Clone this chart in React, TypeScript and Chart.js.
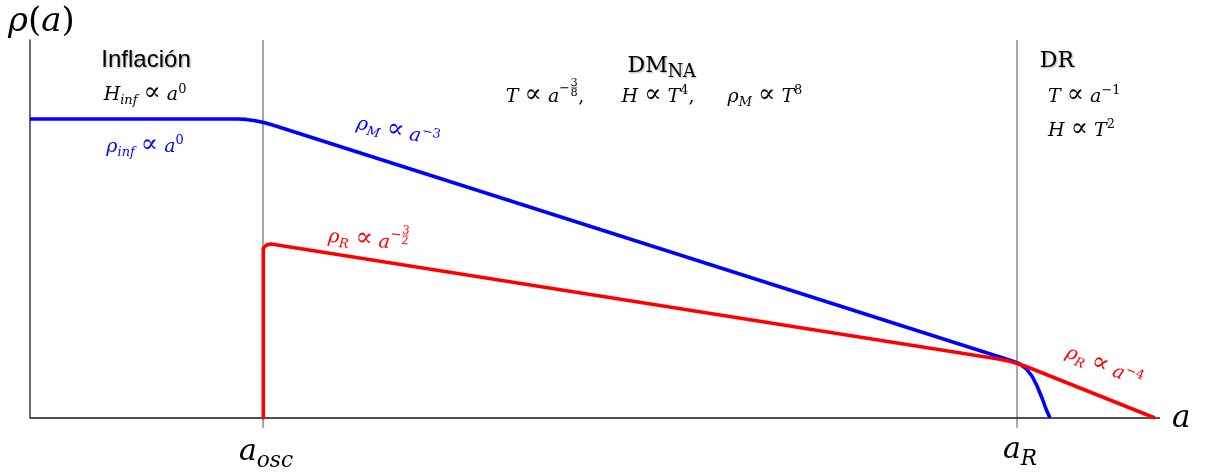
import { useEffect, useRef } from "react";
import { Chart, registerables } from "chart.js";

Chart.register(...registerables);

// Scale factor positions (arbitrary units, 0..100 along each axis)
const A_OSC = 20.62;
const A_R = 87.35;

// Energy density of the inflaton / matter component
const rhoM = [
  { x: 0, y: 79.1 },
  { x: 18.41, y: 79.1 },
  { x: 19.14, y: 78.99 },
  { x: 19.93, y: 78.66 },
  { x: 20.78, y: 78.1 },
  { x: 21.68, y: 77.33 },
  { x: 86.73, y: 15.26 },
  { x: 87.52, y: 14.42 },
  { x: 88.14, y: 13.1 },
  { x: 88.67, y: 11.11 },
  { x: 89.12, y: 8.47 },
  { x: 89.56, y: 5.29 },
  { x: 89.91, y: 2.38 },
  { x: 90.27, y: 0 },
];

// Energy density of the radiation component
const rhoR = [
  { x: 20.62, y: 0 },
  { x: 20.62, y: 43.92 },
  { x: 20.67, y: 44.84 },
  { x: 20.82, y: 45.5 },
  { x: 21.04, y: 45.87 },
  { x: 21.33, y: 46.01 },
  { x: 85.84, y: 15.53 },
  { x: 86.55, y: 15.11 },
  { x: 87.3, y: 14.5 },
  { x: 88.1, y: 13.68 },
  { x: 88.94, y: 12.7 },
  { x: 99.56, y: 0 },
];

const axisFrame = [
  { x: 0, y: 100 },
  { x: 0, y: 0 },
  { x: 100, y: 0 },
];

const eraBounds = [A_OSC, A_R];

const MATH = "'DejaVu Serif', serif";
const SERIF = "'DejaVu Serif', serif";
const SANS = "'Liberation Sans', Arial, sans-serif";

type Tok = {
  t?: string;
  it?: boolean;
  pos?: "sup" | "sub";
  dy?: number;
  sc?: number;
  frac?: [string, string];
};

type Label = {
  toks: Tok[];
  x: number;
  y: number;
  size: number;
  color: string;
  align?: "left" | "center";
  rot?: number;
  fam?: string;
  subScale?: number;
  shadow?: boolean;
};

const BLUE = "#0000ff";
const RED = "#ff0000";
const INK = "#000000";

// "proportional to" relation with surrounding spaces
const PROP: Tok[] = [{ t: " " }, { t: "∝", sc: 1.35 }, { t: " " }];

const labels: Label[] = [
  { toks: [{ t: "ρ", it: true }, { t: "(" }, { t: "a", it: true }, { t: ")" }], x: -1.95, y: 102.4, size: 34, color: INK, align: "left" },
  { toks: [{ t: "Inflación" }], x: 10.27, y: 92.9, size: 24, color: INK, fam: SANS, shadow: true },
  { toks: [{ t: "H", it: true }, { t: "inf", it: true, pos: "sub" }, ...PROP, { t: "a", it: true }, { t: "0", pos: "sup" }], x: 10.18, y: 84.1, size: 19, color: INK },
  { toks: [{ t: "ρ", it: true }, { t: "inf", it: true, pos: "sub" }, ...PROP, { t: "a", it: true }, { t: "0", pos: "sup" }], x: 10.18, y: 70.4, size: 19, color: BLUE },
  { toks: [{ t: "DM" }, { t: "NA", pos: "sub" }], x: 55.9, y: 91.5, size: 22, color: INK, fam: SERIF, subScale: 0.8, shadow: true },
  { toks: [{ t: "T", it: true }, ...PROP, { t: "a", it: true }, { t: "−", pos: "sup", dy: -0.55 }, { frac: ["3", "8"] }, { t: "," }], x: 45.58, y: 83.6, size: 19, color: INK },
  { toks: [{ t: "H", it: true }, ...PROP, { t: "T", it: true }, { t: "4", pos: "sup" }, { t: "," }], x: 55.58, y: 83.6, size: 19, color: INK },
  { toks: [{ t: "ρ", it: true }, { t: "M", it: true, pos: "sub" }, ...PROP, { t: "T", it: true }, { t: "8", pos: "sup" }], x: 65.04, y: 83.6, size: 19, color: INK },
  { toks: [{ t: "DR" }], x: 90.88, y: 92.9, size: 22, color: INK, fam: SERIF, shadow: true },
  { toks: [{ t: "T", it: true }, ...PROP, { t: "a", it: true }, { t: "−1", pos: "sup" }], x: 90.09, y: 83.6, size: 19, color: INK, align: "left" },
  { toks: [{ t: "H", it: true }, ...PROP, { t: "T", it: true }, { t: "2", pos: "sup" }], x: 90.09, y: 74.6, size: 19, color: INK, align: "left" },
  { toks: [{ t: "ρ", it: true }, { t: "M", it: true, pos: "sub" }, ...PROP, { t: "a", it: true }, { t: "−3", pos: "sup" }], x: 32.48, y: 74.3, size: 19, color: BLUE, rot: 12 },
  { toks: [{ t: "ρ", it: true }, { t: "R", it: true, pos: "sub" }, ...PROP, { t: "a", it: true }, { t: "−", pos: "sup", dy: -0.55 }, { frac: ["3", "2"] }], x: 29.91, y: 45.5, size: 19, color: RED, rot: 6 },
  { toks: [{ t: "ρ", it: true }, { t: "R", it: true, pos: "sub" }, ...PROP, { t: "a", it: true }, { t: "−4", pos: "sup" }], x: 94.87, y: 12.2, size: 19, color: RED, rot: 22 },
  { toks: [{ t: "a", it: true }], x: 101.06, y: -2.4, size: 31, color: INK, align: "left" },
  { toks: [{ t: "a", it: true }, { t: "osc", it: true, pos: "sub" }], x: 20.88, y: -11.1, size: 30, color: INK, subScale: 0.72 },
  { toks: [{ t: "a", it: true }, { t: "R", it: true, pos: "sub" }], x: 87.61, y: -10.6, size: 30, color: INK, subScale: 0.72 },
];

function fontOf(size: number, it: boolean, fam: string) {
  return `${it ? "italic " : ""}normal ${size}px ${fam}`;
}

function drawRich(ctx: CanvasRenderingContext2D, lb: Label, px: number, py: number) {
  const S = lb.size;
  const fam = lb.fam || MATH;
  const sub = lb.subScale || 0.68;
  const pieces: { k: Tok; x: number; w: number; fs: number }[] = [];
  let w = 0;
  for (const k of lb.toks) {
    if (k.frac) {
      const fs = S * 0.6;
      ctx.font = fontOf(fs, false, fam);
      const fw = Math.max(ctx.measureText(k.frac[0]).width, ctx.measureText(k.frac[1]).width) + 1;
      pieces.push({ k, x: w, w: fw, fs });
      w += fw;
    } else {
      const fs = (k.pos ? S * sub : S) * (k.sc || 1);
      ctx.font = fontOf(fs, !!k.it, fam);
      const tw = ctx.measureText(k.t || "").width;
      pieces.push({ k, x: w, w: tw, fs });
      w += tw;
    }
  }
  ctx.save();
  ctx.translate(px, py);
  ctx.rotate(((lb.rot || 0) * Math.PI) / 180);
  const x0 = lb.align === "left" ? 0 : -w / 2;
  ctx.fillStyle = lb.color;
  ctx.strokeStyle = lb.color;
  ctx.textBaseline = "alphabetic";
  if (lb.shadow) {
    ctx.shadowColor = "rgba(0,0,0,0.35)";
    ctx.shadowBlur = 2;
    ctx.shadowOffsetX = 1;
    ctx.shadowOffsetY = 1;
  }
  for (const p of pieces) {
    const k = p.k;
    if (k.frac) {
      ctx.font = fontOf(p.fs, false, fam);
      ctx.textAlign = "center";
      const cx = x0 + p.x + p.w / 2;
      ctx.fillText(k.frac[0], cx, -S * 0.86);
      ctx.fillText(k.frac[1], cx, -S * 0.3);
      ctx.lineWidth = 0.6;
      ctx.beginPath();
      ctx.moveTo(x0 + p.x + 1, -S * 0.78);
      ctx.lineTo(x0 + p.x + p.w - 1, -S * 0.78);
      ctx.stroke();
    } else {
      ctx.font = fontOf(p.fs, !!k.it, fam);
      ctx.textAlign = "left";
      let dy = 0;
      if (k.pos === "sup") dy = -S * 0.4;
      if (k.pos === "sub") dy = S * 0.22;
      if (k.dy !== undefined) dy = S * k.dy;
      ctx.fillText(k.t || "", x0 + p.x, dy);
    }
  }
  ctx.restore();
}

const textPlugin = {
  id: "eraText",
  afterDatasetsDraw(chart: Chart) {
    const ctx = chart.ctx;
    const xs = chart.scales.x;
    const ys = chart.scales.y;
    for (const lb of labels) {
      drawRich(ctx, lb, xs.getPixelForValue(lb.x), ys.getPixelForValue(lb.y));
    }
  },
};

export default function App() {
  const ref = useRef<HTMLCanvasElement | null>(null);

  useEffect(() => {
    if (!ref.current) return;
    const line = (data: { x: number; y: number }[], color: string, width: number) => ({
      data,
      borderColor: color,
      backgroundColor: color,
      borderWidth: width,
      showLine: true,
      pointRadius: 0,
      pointHoverRadius: 0,
      tension: 0,
      fill: false,
      clip: false as const,
      borderJoinStyle: "round" as const,
    });
    const chart = new Chart(ref.current, {
      type: "scatter",
      data: {
        datasets: [
          line(rhoR, RED, 3.6),
          line(rhoM, BLUE, 3.6),
          line(axisFrame, "#1a1a1a", 1.3),
          ...eraBounds.map((b) =>
            line(
              [
                { x: b, y: -2.6 },
                { x: b, y: 100 },
              ],
              "#a6a6a6",
              2
            )
          ),
        ],
      },
      options: {
        responsive: false,
        animation: false,
        events: [],
        layout: { padding: { left: 30, right: 52, top: 40, bottom: 54 } },
        scales: {
          x: { type: "linear", min: 0, max: 100, display: false },
          y: { type: "linear", min: 0, max: 100, display: false },
        },
        plugins: { legend: { display: false }, tooltip: { enabled: false } },
      },
      plugins: [textPlugin],
    });
    return () => chart.destroy();
  }, []);

  return (
    <div style={{ position: "fixed", left: 0, top: 0, width: 1212, height: 472, background: "#fff" }}>
      <canvas ref={ref} width={1212} height={472} style={{ display: "block" }} />
    </div>
  );
}
